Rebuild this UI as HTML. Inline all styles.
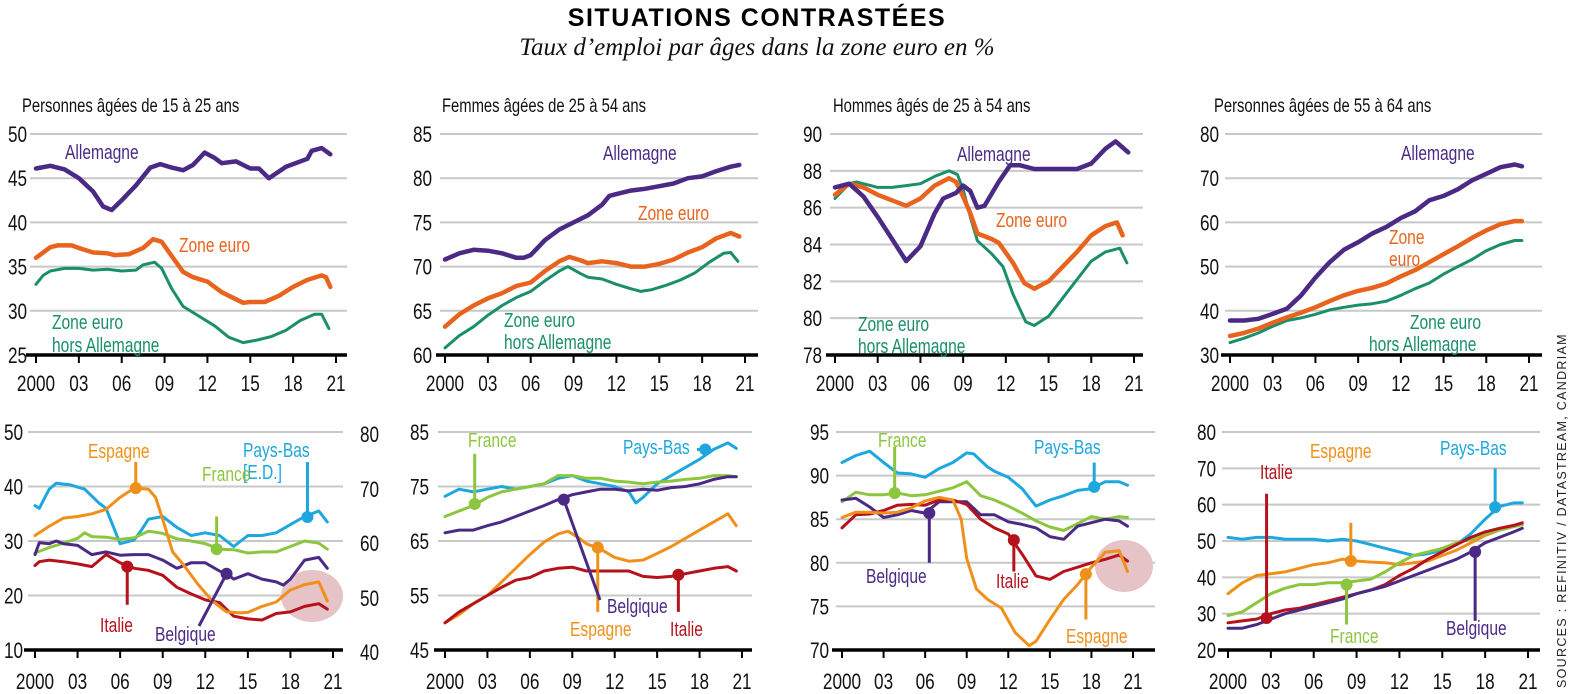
<!DOCTYPE html>
<html><head><meta charset="utf-8">
<style>
html,body{margin:0;padding:0;background:#fff;}
svg{display:block;}
text{font-family:"Liberation Sans Narrow","Liberation Sans",sans-serif;}
.t{font-size:19px;fill:#111;}
.ax{font-size:22px;fill:#111;}
.lb{font-size:20px;}
</style></head><body>
<svg id="s" width="1574" height="694" viewBox="0 0 1574 694" xmlns="http://www.w3.org/2000/svg">
<text x="757" y="26" text-anchor="middle" style="font-family:'Liberation Sans',sans-serif;font-weight:bold;font-size:25px;letter-spacing:1.5px" fill="#000">SITUATIONS CONTRASTÉES</text>
<text x="757" y="55" text-anchor="middle" style="font-family:'Liberation Serif',serif;font-style:italic;font-size:25px" fill="#111">Taux d’emploi par âges dans la zone euro en %</text>
<g id="grid"></g>
<g id="lines"></g>
<g class="t sc">
<text x="22" y="112">Personnes âgées de 15 à 25 ans</text>
<text x="442" y="112">Femmes âgées de 25 à 54 ans</text>
<text x="833" y="112">Hommes âgés de 25 à 54 ans</text>
<text x="1214" y="112">Personnes âgées de 55 à 64 ans</text>
</g>
<g id="ticks" class="ax sc"></g>
<g class="lb sc">
<text x="65" y="159" fill="#4b2a85">Allemagne</text>
<text x="179" y="252" fill="#e8641e">Zone euro</text>
<text x="52" y="329" fill="#1a8f6a">Zone euro</text>
<text x="52" y="352" fill="#1a8f6a">hors Allemagne</text>
<text x="603" y="160" fill="#4b2a85">Allemagne</text>
<text x="638" y="220" fill="#e8641e">Zone euro</text>
<text x="504" y="327" fill="#1a8f6a">Zone euro</text>
<text x="504" y="349" fill="#1a8f6a">hors Allemagne</text>
<text x="957" y="161" fill="#4b2a85">Allemagne</text>
<text x="996" y="227" fill="#e8641e">Zone euro</text>
<text x="858" y="331" fill="#1a8f6a">Zone euro</text>
<text x="858" y="353" fill="#1a8f6a">hors Allemagne</text>
<text x="1401" y="160" fill="#4b2a85">Allemagne</text>
<text x="1389" y="244" fill="#e8641e">Zone</text>
<text x="1389" y="266" fill="#e8641e">euro</text>
<text x="1410" y="329" fill="#1a8f6a">Zone euro</text>
<text x="1369" y="351" fill="#1a8f6a">hors Allemagne</text>

<text x="88" y="458" fill="#f0901a">Espagne</text>
<text x="243" y="457" fill="#1ea7df">Pays-Bas</text>
<text x="243" y="479" fill="#1ea7df">[E.D.]</text>
<text x="202" y="481" fill="#8cc63f">France</text>
<text x="100" y="632" fill="#b5121b">Italie</text>
<text x="155" y="641" fill="#4b2a85">Belgique</text>

<text x="468" y="447" fill="#8cc63f">France</text>
<text x="623" y="454" fill="#1ea7df">Pays-Bas</text>
<text x="607" y="613" fill="#4b2a85">Belgique</text>
<text x="570" y="636" fill="#f0901a">Espagne</text>
<text x="670" y="636" fill="#b5121b">Italie</text>

<text x="878" y="447" fill="#8cc63f">France</text>
<text x="866" y="583" fill="#4b2a85">Belgique</text>
<text x="996" y="588" fill="#b5121b">Italie</text>
<text x="1034" y="454" fill="#1ea7df">Pays-Bas</text>
<text x="1066" y="643" fill="#f0901a">Espagne</text>

<text x="1260" y="479" fill="#b5121b">Italie</text>
<text x="1310" y="458" fill="#f0901a">Espagne</text>
<text x="1330" y="643" fill="#8cc63f">France</text>
<text x="1446" y="635" fill="#4b2a85">Belgique</text>
<text x="1440" y="455" fill="#1ea7df">Pays-Bas</text>
</g>
<g class="ax sc">
<text x="360" y="442">80</text><text x="360" y="497">70</text><text x="360" y="551">60</text><text x="360" y="606">50</text><text x="360" y="660">40</text>
</g>
<text transform="translate(1566,688) rotate(-90)" style="font-family:'Liberation Sans',sans-serif;font-size:12.5px;letter-spacing:1.3px" fill="#222">SOURCES : REFINITIV / DATASTREAM, CANDRIAM</text>
</svg>
<script>
var NS="http://www.w3.org/2000/svg";
function el(p,t,a){var e=document.createElementNS(NS,t);for(var k in a)e.setAttribute(k,a[k]);p.appendChild(e);return e;}
var G=document.getElementById('grid'),L=document.getElementById('lines'),T=document.getElementById('ticks');
var P=[
{x0:36,x21:336,v1:50,p1:134,v2:25,p2:355,gx1:30,gx2:347,ticks:[50,45,40,35,30,25],lx:8,yl:391},
{x0:445,x21:745,v1:85,p1:134,v2:60,p2:355,gx1:440,gx2:758,ticks:[85,80,75,70,65,60],lx:413,yl:391},
{x0:835,x21:1134,v1:90,p1:134,v2:78,p2:355,gx1:830,gx2:1143,ticks:[90,88,86,84,82,80,78],lx:803,yl:391},
{x0:1230,x21:1529,v1:80,p1:134,v2:30,p2:355,gx1:1225,gx2:1542,ticks:[80,70,60,50,40,30],lx:1200,yl:391},
{x0:35,x21:333,v1:50,p1:432,v2:10,p2:650,gx1:28,gx2:343,ticks:[50,40,30,20,10],lx:4,yl:689},
{x0:445,x21:742,v1:85,p1:432,v2:45,p2:650,gx1:438,gx2:752,ticks:[85,75,65,55,45],lx:410,yl:689},
{x0:842,x21:1133,v1:95,p1:432,v2:70,p2:650,gx1:836,gx2:1155,ticks:[95,90,85,80,75,70],lx:810,yl:689},
{x0:1228,x21:1528,v1:80,p1:432,v2:20,p2:650,gx1:1222,gx2:1540,ticks:[80,70,60,50,40,30,20],lx:1197,yl:689}
];
P.forEach(function(p){
 p.X=function(y){return p.x0+(p.x21-p.x0)*y/21;};
 p.Y=function(v){return p.p1+(p.p2-p.p1)*(v-p.v1)/(p.v2-p.v1);};
 p.ticks.forEach(function(v,i){var y=p.Y(v);
  if(i<p.ticks.length-1) el(G,'line',{x1:p.gx1,x2:p.gx2,y1:y,y2:y,stroke:'#c8c8c8','stroke-width':2});
  var t=el(T,'text',{x:p.lx,y:y+8});t.textContent=v;});
 var yb=p.p2;
 el(G,'line',{x1:p.gx1-4,x2:p.gx2,y1:yb,y2:yb,stroke:'#000','stroke-width':3.5});
 [0,3,6,9,12,15,18,21].forEach(function(yr){var x=p.X(yr);
  el(G,'line',{x1:x,x2:x,y1:yb,y2:yb+8,stroke:'#000','stroke-width':2});
  var t=el(T,'text',{x:x,y:p.yl,'text-anchor':'middle'});t.textContent=yr==0?'2000':(yr<10?'0'+yr:yr);});
});
el(L,'ellipse',{cx:312,cy:596,rx:31,ry:26,fill:'#e6c3c6'});
el(L,'ellipse',{cx:1124,cy:566,rx:29,ry:26,fill:'#e6c3c6'});
function line(pi,col,w,d){var p=P[pi],s='';for(var i=0;i<d.length;i+=2)s+=(i?'L':'M')+p.X(d[i]).toFixed(1)+','+p.Y(d[i+1]).toFixed(1);
 el(L,'path',{d:s,fill:'none',stroke:col,'stroke-width':w,'stroke-linejoin':'round','stroke-linecap':'round'});}
function mk(pi,col,yr,v,v2){var p=P[pi],x=p.X(yr);el(L,'line',{x1:x,x2:x,y1:p.Y(v),y2:p.Y(v2),stroke:col,'stroke-width':3});el(L,'circle',{cx:x,cy:p.Y(v),r:6,fill:col});}
var PU='#4b2a85',OR='#e8641e',GR='#1a8f6a',ES='#f0901a',PB='#1ea7df',FR='#8cc63f',IT='#b5121b';
line(0,GR,3,[0,33,.5,34,1,34.5,2,34.8,3,34.8,4,34.6,5,34.7,6,34.5,7,34.6,7.5,35.2,8.3,35.5,8.8,34.8,9.5,32.5,10.3,30.5,11.5,29.3,12.5,28.3,13.5,27,14.5,26.4,15.5,26.7,16.5,27.1,17.5,27.8,18.5,28.9,19.5,29.6,20,29.6,20.5,28]);
line(0,OR,4.5,[0,36,1,37.2,1.5,37.4,2.5,37.4,3,37.1,4,36.6,5,36.5,5.5,36.3,6.5,36.4,7.5,37.1,8.2,38.1,8.8,37.8,9.5,36.2,10.3,34.4,11,33.8,12,33.3,13,32.1,14,31.3,14.5,30.9,15,31,16,31,17,31.7,18,32.7,19,33.5,20,34,20.3,33.8,20.6,32.7]);
line(0,PU,4.5,[0,46.1,1,46.4,2,46,3,45,4,43.5,4.7,41.8,5.3,41.4,6,42.5,7,44.2,8,46.2,8.7,46.6,9.5,46.2,10.3,45.9,11,46.5,11.8,47.9,12.5,47.3,13,46.7,14,46.9,15,46.1,15.6,46.1,16.3,45,17.5,46.3,18,46.6,19,47.2,19.3,48.1,20,48.4,20.6,47.7]);
line(1,GR,3,[0,60.8,1,62.2,2,63.2,3,64.5,4,65.6,5,66.5,6,67.2,7,68.4,8,69.5,8.6,70,9.5,69.2,10,68.8,11,68.6,12,68,13,67.5,13.7,67.2,14.5,67.4,15.5,67.9,16.5,68.5,17.5,69.3,18.5,70.5,19.5,71.5,20,71.6,20.5,70.6]);
line(1,OR,4.5,[0,63.2,1,64.6,2,65.6,3,66.4,4,67,5,67.8,6,68.2,7,69.5,8,70.6,8.7,71.1,9.5,70.7,10,70.4,11,70.6,12,70.4,13,70,14,70,15,70.3,16,70.8,17,71.6,18,72.2,19,73.2,20,73.8,20.6,73.4]);
line(1,PU,4.5,[0,70.8,1,71.5,2,71.9,3,71.8,4,71.5,5,71,5.5,71,6,71.3,7,73,8,74.2,9,75,10,75.8,11,77,11.5,78,12,78.2,13,78.6,14,78.8,15,79.1,16,79.4,17,80,18,80.2,19,80.8,20,81.3,20.6,81.5]);
line(2,GR,3,[0,86.5,1,87.3,1.5,87.4,2.5,87.2,3,87.1,4,87.1,5,87.2,6,87.3,7,87.7,8,88,8.6,87.8,9,87,9.5,85.5,10,84.2,11,83.5,11.8,82.8,12.5,81.3,13.4,79.8,14,79.6,15,80.1,16,81.1,17,82.1,18,83.1,19,83.6,20,83.8,20.5,83]);
line(2,OR,4.5,[0,86.7,1,87.3,2,87.1,3,86.7,4,86.4,5,86.1,6,86.5,7,87.2,8,87.6,8.5,87.4,9,86.6,9.5,85.7,10,84.6,11,84.3,11.5,84.1,12.5,83,13.3,81.9,14,81.6,15,82,16,82.8,17,83.6,18,84.5,19,85,19.8,85.2,20.2,84.5]);
line(2,PU,4.5,[0,87.1,1,87.3,2,86.6,3,85.5,4,84.3,5,83.1,6,83.9,7,85.7,7.6,86.5,8.5,86.8,9,87.2,9.5,86.9,10,86,10.5,86.1,11.5,87.4,12.3,88.3,13,88.3,14,88.1,15,88.1,16,88.1,17,88.1,18,88.4,19,89.2,19.7,89.6,20,89.4,20.6,89]);
line(3,GR,3,[0,32.8,1,33.8,2,35,3,36.5,4,37.8,5,38.4,6,39.2,7,40.2,8,40.8,9,41.3,10,41.6,11,42.2,12,43.5,13,45,14,46.3,15,48.3,16,50,17,51.6,18,53.6,19,55,20,55.9,20.5,55.9]);
line(3,OR,4.5,[0,34.3,1,35,2,36,3,37.3,4,38.5,5,39.6,6,40.8,7,42.2,8,43.5,9,44.5,10,45.2,11,46.2,12,47.8,13,49.2,14,51,15,52.8,16,54.6,17,56.5,18,58.2,19,59.6,20,60.3,20.5,60.3]);
line(3,PU,4.5,[0,37.8,1,37.8,2,38.2,3,39.3,4,40.5,5,43.5,6,47.5,7,51,8,53.8,9,55.5,10,57.5,11,59,12,61,13,62.5,14,65,15,66,16,67.5,17,69.5,18,71,19,72.5,20,73.1,20.5,72.7]);
var pb=[0,66.5,.3,66,1,69.5,1.5,70.6,2.5,70.3,3.5,69.5,4.5,67,5,66,6,59.5,7,60.2,7.5,62,8,64,9,64.5,10,62.5,11,61,12,61.5,13,61,14,59,15,61,16,61,17,61.5,18,63,19,64.5,20,65.5,20.6,63.5];
for(var i=1;i<pb.length;i+=2)pb[i]-=30;
line(4,PB,3,pb);
line(4,FR,3,[0,27.8,1,28.8,2,29.6,3,30.5,3.5,31.5,4,30.8,5,30.7,6,30.3,7,30.6,8,31.8,9,31.4,10,30.4,11,30,12,29.5,13,28.5,14,28.4,15,27.8,16,28,17,28,18,29,19,30,20,29.6,20.6,28.5]);
line(4,PU,3,[0,27.5,.3,29.7,1,29.5,1.5,30,2,29.5,3,29.2,4,27.5,5,28,6,27.4,7,27.5,8,27.5,9,26.5,10,25,11,26,12,26,13,24.5,13.5,24,14,23,15,24,16,23,17,22.5,17.5,21.9,18,23,19,26.5,20,27,20.6,25]);
line(4,IT,3,[0,25.5,.3,26.2,1,26.5,2,26.2,3,25.8,4,25.3,5,27.5,6,26,7,25,8,24.6,9,23.7,10,21.5,11,20.3,12,19.2,13,18.7,14,16.2,15,15.7,16,15.5,17,16.7,18,17,19,18,20,18.5,20.6,17.5]);
line(4,ES,3,[0,31,1,32.7,2,34.2,3,34.5,4,35,5,35.8,6,38,7,39.7,8,39.5,8.5,38,9,34,9.7,28,10.5,25.5,11.5,22,12.5,19,13.5,17,14.5,16.8,15,16.9,16,18,17,18.8,18,21,19,22,20,22.5,20.6,19]);
mk(4,ES,7.1,39.7,44.5);mk(4,PB,19.2,34.4,44.5);mk(4,FR,12.8,28.5,34.5);mk(4,IT,6.5,25.3,18.3);
el(L,'line',{x1:P[4].X(13.5),y1:P[4].Y(24),x2:199,y2:626,stroke:PU,'stroke-width':3});el(L,'circle',{cx:P[4].X(13.5),cy:P[4].Y(24),r:6,fill:PU});
line(5,PB,3,[0,73.2,1,74.5,2,74,3,74.5,4,75,5,74.5,6,75,7,75.5,8,76.5,9,77,10,76,11,75.5,12,75,13,74,13.5,72,14,73,15,75.5,16,77,17,78.5,18,80,19,81.8,20,83,20.6,82]);
line(5,FR,3,[0,69.5,1,70.5,2,71.5,3,73,4,74,5,74.5,6,75,7,75.5,8,77,9,77,10,76.5,11,76.5,12,76,13,75.8,14,75.5,15,75.8,16,76,17,76.3,18,76.5,19,77,20,77,20.6,76.8]);
line(5,PU,3,[0,66.5,1,67,2,67,3,67.8,4,68.5,5,69.5,6,70.5,7,71.5,8,72.6,9,73.5,10,74,11,74.5,12,74.5,13,74.2,14,74.5,15,74.3,16,74.8,17,75,18,75.5,19,76.3,20,76.8,20.6,76.8]);
line(5,ES,3,[0,50,1,51.5,2,53.5,3,55,4,57.5,5,60,6,62.5,7,64.8,8,66.3,8.7,66.8,9.5,65.5,10,64.5,11,63.5,12,62,13,61.3,14,61.5,15,62.7,16,64,17,65.5,18,67,19,68.5,20,70,20.6,67.8]);
line(5,IT,3,[0,50,1,52,2,53.5,3,55,4,56.5,5,57.8,6,58.3,7,59.5,8,60,9,60.2,10,59.5,11,59.5,12,59.5,13,59.5,14,58.5,15,58.3,16,58.5,17,59,18,59.5,19,60,20,60.3,20.6,59.5]);
mk(5,FR,2.1,71.8,81);mk(5,ES,10.8,63.8,52);mk(5,IT,16.5,58.8,52);
el(L,'line',{x1:P[5].X(18.4),y1:P[5].Y(81.8),x2:697,y2:P[5].Y(81.8),stroke:PB,'stroke-width':3});el(L,'circle',{cx:P[5].X(18.4),cy:P[5].Y(81.8),r:6,fill:PB});
el(L,'line',{x1:P[5].X(8.4),y1:P[5].Y(72.6),x2:600,y2:600,stroke:PU,'stroke-width':3});el(L,'circle',{cx:P[5].X(8.4),cy:P[5].Y(72.6),r:6,fill:PU});
line(6,PB,3,[0,91.5,1,92.3,2,92.8,3,91.5,4,90.3,5,90.2,6,89.8,7,90.8,8,91.5,9,92.6,9.5,92.5,10.5,91,11,90.5,12,89.8,13,88.5,14,86.5,15,87.2,16,87.7,17,88.3,18,88.5,19,89.3,20,89.3,20.6,88.9]);
line(6,FR,3,[0,87,1,88.1,2,87.8,3,87.8,4,88,5,87.7,6,87.8,7,88.2,8,88.6,9,89.3,10,87.7,11,87.2,12,86.5,13,85.7,14,84.8,15,84.1,16,83.7,17,84.5,18,85.3,19,85,20,85.3,20.6,85.2]);
line(6,PU,3,[0,87.2,1,87.4,2,86.4,3,85.2,4,85.5,5,86,6,85.7,7,87,8,87,9,87,10,85.5,11,85.5,12,84.7,13,84.4,14,84,15,83,16,82.7,17,84.2,18,84.6,19,85,20,84.8,20.6,84.2]);
line(6,IT,3,[0,84,1,85.5,2,85.6,3,86,4,86.6,5,86.7,6,86.6,7,87.2,8,87.2,9,86.7,10,85,11,84,12,83.3,13,81,14,78.5,15,78.1,16,79,17,79.5,18,80,19,80.4,20,80.9,20.6,80.2]);
line(6,ES,3,[0,85.2,1,85.8,2,85.8,3,85.7,4,85.8,5,86.3,6,87.1,7,87.5,8,87.2,8.6,85,9,80.5,9.7,77,10.5,75.8,11.5,74.8,12.5,72,13.5,70.5,14,71,15,73.5,16,75.8,17,77.5,18,79.5,19,81.2,20,81.4,20.6,79]);
mk(6,FR,3.8,88,93.3);mk(6,PU,6.3,85.7,80);mk(6,IT,12.4,82.6,79);mk(6,PB,18.2,88.7,91.5);mk(6,ES,17.6,78.7,73.5);
line(7,PB,3,[0,51,1,50.5,2,51,3,51,4,50.5,5,50.5,6,50.5,7,50,8,50.5,9,50,10,49,11,48,12,47,13,46,14,46.5,15,47.5,16,49,17,52,18,56,19,59.5,20,60.5,20.6,60.5]);
line(7,ES,3,[0,35.5,1,38.5,2,40.5,3,41,4,41.5,5,42.5,6,43.5,7,44,8,45,8.5,44.8,9,44.5,10,44.2,11,44,12,43.5,13,44,14,44.5,15,46,16,47.5,17,49.5,18,51.5,19,53,20,54,20.6,54.5]);
line(7,FR,3,[0,29.5,1,30.5,2,33,3,35.5,4,37,5,38,6,38,7,38.5,8,38.5,9,39,10,39.5,11,41.5,12,44,13,46,14,47,15,48,16,49.5,17,50.5,18,52,19,53,20,54,20.6,54.5]);
line(7,IT,3,[0,27.5,1,28,2,28.5,3,30,4,31,5,31.5,6,32.5,7,33.5,8,34.5,9,35.5,10,36.5,11,38,12,40.5,13,42.5,14,45,15,47,16,49,17,51,18,52.5,19,53.5,20,54.3,20.6,55]);
line(7,PU,3,[0,26,1,26,2,27,3,28.5,4,30,5,31,6,32,7,33,8,34,9,35.5,10,36.5,11,37.5,12,39,13,40.5,14,42,15,43.5,16,45,17,47,18,49.5,19,51,20,52.5,20.6,53.5]);
mk(7,IT,2.7,28.8,63);mk(7,ES,8.6,44.5,55);mk(7,FR,8.3,38,27);mk(7,PU,17.3,47,28);mk(7,PB,18.7,59.3,70);
document.querySelectorAll('.sc text').forEach(function(t){var x=+t.getAttribute('x');
 t.setAttribute('transform','translate('+x+',0) scale(0.78,1) translate('+(-x)+',0)');});
</script>
</body></html>
